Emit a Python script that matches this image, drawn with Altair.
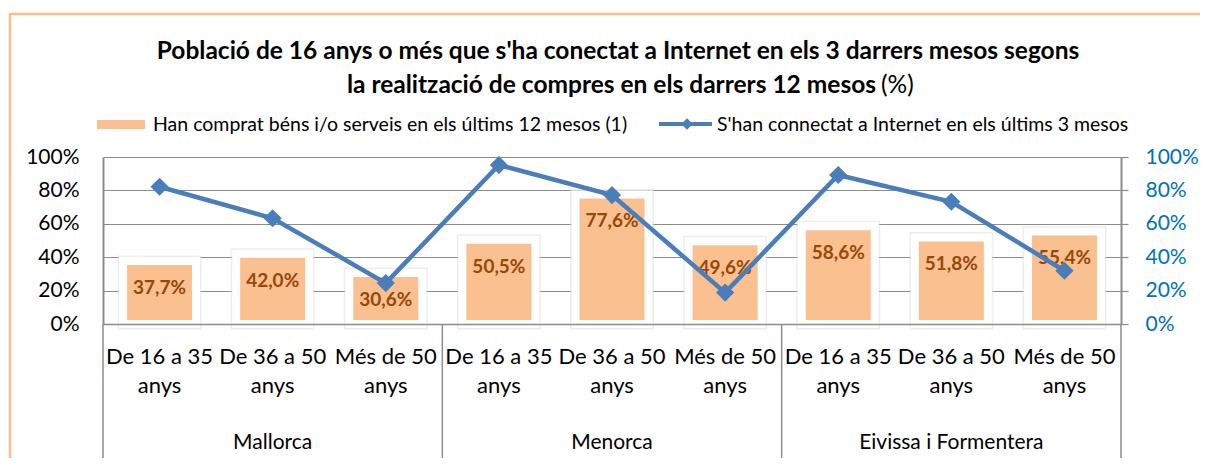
import altair as alt
import pandas as pd

# ---------------- data ----------------
islands = ["Mallorca", "Menorca", "Eivissa i Formentera"]
ages = ["De 16 a 35 anys", "De 36 a 50 anys", "Més de 50 anys"]
compres = [37.7, 42.0, 30.6, 50.5, 77.6, 49.6, 58.6, 51.8, 55.4]
connectats = [82.2, 63.3, 24.5, 95.2, 77.2, 18.8, 89.2, 73.2, 31.9]
y_ticks = [0, 20, 40, 60, 80, 100]
series_names = [
    "Han comprat béns i/o serveis en els últims 12 mesos (1)",
    "S'han connectat a Internet en els últims 3 mesos",
]
title_line1 = "Població de 16 anys o més que s'ha conectat a Internet en els 3 darrers mesos segons"
title_line2 = "la realització de compres en els darrers 12 mesos"
title_unit = "(%)"

FONT = "Lato"
W, H = 1018, 167
BAR_C = "#FAC090"
LINE_C = "#4A7EBB"
LAB_C = "#984807"
GRID_C = "#8C8C8C"

keys = [f"{i}|{a}" for i in islands for a in ages]
df = pd.DataFrame({
    "key": keys,
    "island": [i for i in islands for a in ages],
    "compres": compres,
    "connectats": connectats,
    "label": [f"{v:.1f}".replace(".", ",") + "%" for v in compres],
})
xscale = alt.Scale(paddingInner=0, paddingOuter=0)
yscale = alt.Scale(domain=[0, 100], nice=False)

xaxis = alt.Axis(
    title=None, labelExpr="[replace(split(datum.value,'|')[1],' anys',''),'anys']",
    labelAngle=0, labelFont=FONT, labelFontSize=22, labelColor="#000",
    labelPadding=22, labelLineHeight=29, labelBaseline="top", ticks=False,
    labelOverlap=False, labelLimit=200,
    domain=True, domainColor=GRID_C, domainWidth=1.5, grid=False, zindex=1)


def xenc(band=None):
    if band is None:
        return alt.X("key:N", sort=keys, scale=xscale, axis=xaxis)
    return alt.X("key:N", sort=keys, scale=xscale, axis=xaxis, bandPosition=band)


base = alt.Chart(df)

glow = base.mark_bar(width=73, fill="white", stroke="#D8D8D8", strokeWidth=11, strokeOpacity=0.45).encode(
    x=xenc(),
    y=alt.Y("compres:Q", scale=yscale, axis=None),
)

bars = base.mark_bar(width=73, fill=BAR_C, stroke="white", strokeWidth=8).encode(
    x=xenc(),
    y=alt.Y("compres:Q", scale=yscale, axis=alt.Axis(
        title=None, orient="left", values=y_ticks, labelExpr="datum.value + '%'",
        labelFont=FONT, labelFontSize=21, labelColor="#000", labelPadding=24,
        ticks=False, domain=True, domainColor=GRID_C, domainWidth=2,
        grid=True, gridColor=GRID_C, gridWidth=1.2)),
)

labels = base.mark_text(font=FONT, fontSize=19, fontWeight="bold", color=LAB_C,
                        baseline="middle", dy=27).encode(
    x=xenc(),
    y=alt.Y("compres:Q", scale=yscale, axis=None),
    text="label:N",
)

line = base.mark_line(color=LINE_C, strokeWidth=4.5,
                      point=alt.OverlayMarkDef(shape="diamond", size=330, filled=True,
                                               color=LINE_C, opacity=1)).encode(
    x=xenc(),
    y=alt.Y("connectats:Q", scale=yscale, axis=alt.Axis(
        title=None, orient="right", values=y_ticks, labelExpr="datum.value + '%'",
        labelFont=FONT, labelFontSize=21, labelColor="#0070C0", labelPadding=17,
        ticks=True, tickSize=7, tickColor=GRID_C, tickWidth=1.2,
        domain=True, domainColor=GRID_C, domainWidth=2, grid=False)),
)

# island labels and separators
isl_df = pd.DataFrame({"island": islands, "key": [f"{i}|{ages[1]}" for i in islands]})
isl_text = alt.Chart(isl_df).mark_text(font=FONT, fontSize=21, color="#000", baseline="middle").encode(
    x=xenc(),
    y=alt.value(286),
    text="island:N",
)
sep_df = pd.DataFrame({"key": [f"{i}|{ages[0]}" for i in islands]})
seps = alt.Chart(sep_df).mark_rule(color=GRID_C, strokeWidth=1.5).encode(
    x=xenc(0), y=alt.value(H), y2=alt.value(330),
)
sep_end = alt.Chart(pd.DataFrame({"key": [keys[-1]]})).mark_rule(color=GRID_C, strokeWidth=1.5).encode(
    x=xenc(1), y=alt.value(H), y2=alt.value(330),
)

one = pd.DataFrame({"t": [0]})
frame = alt.Chart(one).mark_rect(fill="transparent", stroke="#F9BE8C", strokeWidth=2.5).encode(
    x=alt.value(-93), x2=alt.value(1300), y=alt.value(-143), y2=alt.value(500))

# legend
leg_sw1 = alt.Chart(one).mark_rect(fill=BAR_C).encode(
    x=alt.value(-6), x2=alt.value(42), y=alt.value(-37), y2=alt.value(-28))
leg_t1 = alt.Chart(pd.DataFrame({"t": [series_names[0]]})).mark_text(
    font=FONT, fontSize=19.5, align="left", baseline="middle", color="#000").encode(
    x=alt.value(50), y=alt.value(-32), text="t:N")
leg_sw2 = alt.Chart(one).mark_rule(color=LINE_C, strokeWidth=4).encode(
    x=alt.value(556), x2=alt.value(609), y=alt.value(-33))
leg_pt2 = alt.Chart(one).mark_point(shape="diamond", size=130, filled=True, color=LINE_C, opacity=1).encode(
    x=alt.value(584), y=alt.value(-33))
leg_t2 = alt.Chart(pd.DataFrame({"t": [series_names[1]]})).mark_text(
    font=FONT, fontSize=19.5, align="left", baseline="middle", color="#000").encode(
    x=alt.value(614), y=alt.value(-32), text="t:N")

# title
t1 = alt.Chart(pd.DataFrame({"t": [title_line1]})).mark_text(
    font=FONT, fontSize=24.5, fontWeight="bold", align="center", baseline="middle", color="#000").encode(
    x=alt.value(515), y=alt.value(-105), text="t:N")
t2 = alt.Chart(pd.DataFrame({"t": [title_line2]})).mark_text(
    font=FONT, fontSize=24.5, fontWeight="bold", align="right", baseline="middle", color="#000").encode(
    x=alt.value(773), y=alt.value(-71), text="t:N")
t3 = alt.Chart(pd.DataFrame({"t": [title_unit]})).mark_text(
    font=FONT, fontSize=24.5, align="left", baseline="middle", color="#000").encode(
    x=alt.value(778), y=alt.value(-71), text="t:N")

chart = alt.layer(
    frame, glow, bars, labels, line, isl_text, seps, sep_end,
    leg_sw1, leg_t1, leg_sw2, leg_pt2, leg_t2, t1, t2, t3,
).resolve_scale(y="independent").properties(
    width=W, height=H,
    autosize=alt.AutoSizeParams(type="none"),
    padding={"left": 95, "top": 149, "right": 79, "bottom": 134},
).configure_view(stroke=None)

chart.save("out.html", embed_options={"renderer": "svg", "actions": False})
